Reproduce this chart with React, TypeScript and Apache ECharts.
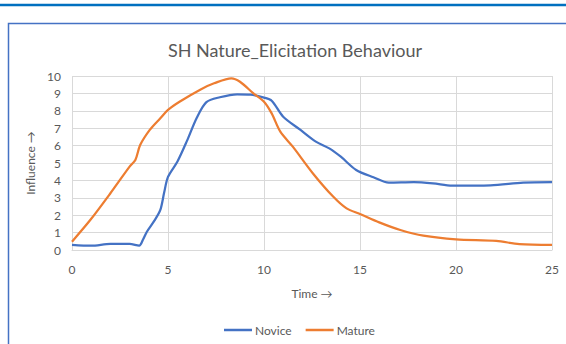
import React, { useEffect, useRef } from "react";
import * as echarts from "echarts";

const chartTitle = "SH Nature_Elicitation Behaviour";
const seriesNames = ["Novice", "Mature"];
const xAxisName = "Time →";
const yAxisName = "Influence →";

const noviceX = [0, 1, 2, 3, 3.5, 3.7, 3.9, 4.3, 4.6, 4.8, 5, 5.5, 6, 6.5, 7, 7.7, 8.6, 9.3, 10, 10.4, 11, 11.9, 12.7, 13.4, 14, 14.8, 15.7, 16.5, 17.8, 18.8, 19.8, 21.8, 23.5, 25];
const noviceY = [0.3, 0.25, 0.35, 0.35, 0.25, 0.6, 1.05, 1.7, 2.3, 3.3, 4.2, 5.1, 6.3, 7.6, 8.5, 8.78, 8.95, 8.93, 8.76, 8.58, 7.66, 6.9, 6.23, 5.84, 5.36, 4.6, 4.18, 3.87, 3.9, 3.83, 3.7, 3.72, 3.87, 3.9];

const matureX = [0, 0.95, 2, 3, 3.3, 3.55, 4.05, 4.6, 5, 5.6, 6.7, 7.4, 8.3, 8.75, 9.45, 10, 10.4, 10.85, 11.5, 12.55, 13.6, 14.3, 15, 16, 17.1, 18.3, 20, 22.1, 23.3, 25];
const matureY = [0.48, 1.72, 3.26, 4.79, 5.17, 6.03, 6.9, 7.57, 8.05, 8.52, 9.23, 9.58, 9.87, 9.67, 9.0, 8.52, 7.85, 6.8, 5.94, 4.4, 3.07, 2.39, 2.07, 1.59, 1.15, 0.82, 0.61, 0.52, 0.34, 0.29];

const FONT = "Lato";
const TEXT = "#595959";

export default function App() {
  const ref = useRef<HTMLDivElement>(null);
  useEffect(() => {
    document.body.style.margin = "0";
    const chart = echarts.init(ref.current!, null, { renderer: "svg" });
    const pair = (xs: number[], ys: number[]) => xs.map((x, i) => [x, ys[i]]);
    chart.setOption({
      animation: false,
      backgroundColor: "#fff",
      textStyle: { fontFamily: FONT, color: TEXT },
      title: {
        text: chartTitle,
        left: 290,
        top: 36,
        textAlign: "center",
        textStyle: { fontFamily: FONT, fontSize: 18, fontWeight: "normal", color: TEXT },
      },
      graphic: [
        { type: "line", shape: { x1: 0, y1: 5, x2: 566, y2: 5 }, style: { stroke: "#0070C0", lineWidth: 2.5 } },
        { type: "rect", shape: { x: 8.5, y: 23.5, width: 700, height: 500 }, style: { fill: "none", stroke: "#4472C4", lineWidth: 1.5 } },
      ],
      legend: {
        data: seriesNames,
        left: 219,
        top: 319,
        icon: "rect",
        itemWidth: 28,
        itemHeight: 2.5,
        itemGap: 14,
        textStyle: { fontFamily: FONT, fontSize: 12, color: TEXT, padding: [0, 0, 0, -2] },
      },
      grid: { left: 72, right: 14, top: 76, bottom: 94 },
      xAxis: {
        type: "value",
        min: 0,
        max: 25,
        interval: 5,
        name: xAxisName,
        nameLocation: "middle",
        nameGap: 37,
        nameTextStyle: { fontFamily: FONT, fontSize: 12, color: TEXT },
        axisLine: { show: true, lineStyle: { color: "#D9D9D9", width: 1 } },
        axisTick: { show: false },
        axisLabel: { fontFamily: FONT, fontSize: 12, color: TEXT, margin: 13 },
        splitLine: { show: true, lineStyle: { color: "#D9D9D9", width: 1 } },
      },
      yAxis: {
        type: "value",
        min: 0,
        max: 10,
        interval: 1,
        name: yAxisName,
        nameLocation: "middle",
        nameGap: 33,
        nameRotate: 90,
        nameTextStyle: { fontFamily: FONT, fontSize: 12, color: TEXT },
        axisLine: { show: false },
        axisTick: { show: false },
        axisLabel: { fontFamily: FONT, fontSize: 12, color: TEXT, margin: 11 },
        splitLine: { show: true, lineStyle: { color: "#D9D9D9", width: 1 } },
      },
      series: [
        {
          name: seriesNames[0],
          type: "line",
          data: pair(noviceX, noviceY),
          smooth: 0.3,
          showSymbol: false,
          lineStyle: { color: "#4472C4", width: 2.25 },
          itemStyle: { color: "#4472C4" },
        },
        {
          name: seriesNames[1],
          type: "line",
          data: pair(matureX, matureY),
          smooth: 0.3,
          showSymbol: false,
          lineStyle: { color: "#ED7D31", width: 2.25 },
          itemStyle: { color: "#ED7D31" },
        },
      ],
    });
    return () => chart.dispose();
  }, []);
  return (
    <div
      ref={ref}
      style={{ position: "absolute", left: 0, top: 0, width: 566, height: 344 }}
    />
  );
}
